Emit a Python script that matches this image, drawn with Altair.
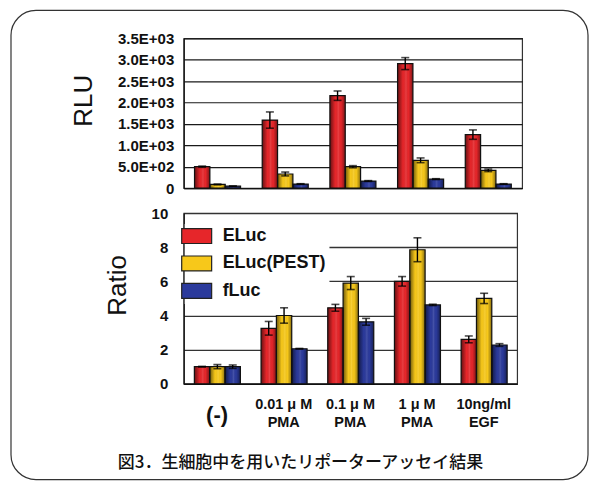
import altair as alt
import pandas as pd

categories = ["(-)", "0.01 μ M|PMA", "0.1 μ M|PMA", "1 μ M|PMA", "10ng/ml|EGF"]
series = ["ELuc", "ELuc(PEST)", "fLuc"]
colors = ["#e6262a", "#f7c81a", "#2b3a9c"]

rlu_eluc = [500, 1590, 2160, 2910, 1250]
rlu_eluc_err = [15, 190, 110, 140, 110]
rlu_pest = [85, 330, 500, 650, 415]
rlu_pest_err = [10, 45, 25, 55, 30]
rlu_fluc = [45, 95, 165, 210, 95]
rlu_fluc_err = [5, 8, 10, 10, 8]

ratio_eluc = [1.0, 3.25, 4.45, 6.0, 2.6]
ratio_eluc_err = [0.02, 0.4, 0.2, 0.28, 0.2]
ratio_pest = [1.0, 4.0, 5.9, 7.85, 5.0]
ratio_pest_err = [0.12, 0.45, 0.38, 0.7, 0.3]
ratio_fluc = [1.0, 2.05, 3.63, 4.62, 2.27]
ratio_fluc_err = [0.1, 0.02, 0.2, 0.04, 0.08]

rlu_ticks = [0, 500, 1000, 1500, 2000, 2500, 3000, 3500]
ratio_ticks = [0, 2, 4, 6, 8, 10]

caption = "図3．生細胞中を用いたリポーターアッセイ結果"


def make_df(vals, errs):
    rows = []
    for s, v, e in zip(series, vals, errs):
        for c, vv, ee in zip(categories, v, e):
            rows.append({"cat": c, "series": s, "value": vv, "err": ee,
                         "lo": vv - ee, "hi": vv + ee})
    return pd.DataFrame(rows)


df_rlu = make_df([rlu_eluc, rlu_pest, rlu_fluc],
                 [rlu_eluc_err, rlu_pest_err, rlu_fluc_err])
df_ratio = make_df([ratio_eluc, ratio_pest, ratio_fluc],
                   [ratio_eluc_err, ratio_pest_err, ratio_fluc_err])
one = pd.DataFrame({"a": [0]})

FONT = "Liberation Sans"

shade = alt.Gradient(
    gradient="linear",
    stops=[
        alt.GradientStop(color="rgba(0,0,0,0.55)", offset=0),
        alt.GradientStop(color="rgba(0,0,0,0)", offset=0.35),
        alt.GradientStop(color="rgba(255,255,255,0.12)", offset=0.55),
        alt.GradientStop(color="rgba(0,0,0,0)", offset=0.72),
        alt.GradientStop(color="rgba(0,0,0,0.45)", offset=1),
    ],
    x1=0, x2=1, y1=0, y2=0,
)

xscale = alt.Scale(domain=categories, paddingInner=0.32, paddingOuter=0.16)
xoff = alt.XOffset("series:N", sort=series,
                   scale=alt.Scale(domain=series, paddingInner=0, paddingOuter=0))
color_scale = alt.Scale(domain=series, range=colors)


def panel(df, yaxis, ydomain, xaxis, legend):
    x = alt.X("cat:N", sort=categories, scale=xscale, axis=xaxis, title=None)
    ys = alt.Scale(domain=ydomain, nice=False, zero=True)

    def Y(f):
        return alt.Y(f + ":Q", scale=ys, axis=yaxis)

    base = alt.Chart(df)
    bars = base.mark_bar().encode(
        x=x, xOffset=xoff, y=Y("value"),
        color=alt.Color("series:N", sort=series, scale=color_scale, legend=legend),
    )
    overlay = base.mark_bar(fill=shade, stroke="#111", strokeWidth=1.2).encode(
        x=x, xOffset=xoff, y=Y("value"))
    rules = base.mark_rule(color="#000", strokeWidth=1.4).encode(
        x=x, xOffset=xoff, y=Y("lo"), y2="hi:Q")
    cap_hi = base.mark_tick(color="#000", thickness=1.6, size=8).encode(
        x=x, xOffset=xoff, y=Y("hi"))
    cap_lo = base.mark_tick(color="#000", thickness=1.6, size=8).encode(
        x=x, xOffset=xoff, y=Y("lo"))
    return [bars, overlay, rules, cap_hi, cap_lo]


top_yaxis = alt.Axis(
    values=rlu_ticks, labelOverlap=False,
    labelExpr="datum.value == 0 ? '0' : (datum.value < 1000 ? format(datum.value/100, '.1f') + 'E+02' : format(datum.value/1000, '.1f') + 'E+03')",
    labelPadding=10, labelFontSize=15, ticks=False, grid=True, gridColor="#1a1a1a", gridWidth=1.2,
    title="RLU", titleFont=FONT, titleFontSize=26, titleFontWeight="normal",
    titleAngle=270, titleX=-100, titleY=62, titleAlign="center", titleBaseline="middle",
    titleColor="#111",
)
top_xaxis = alt.Axis(labels=False, ticks=False, domain=True)

bot_yaxis = alt.Axis(
    values=ratio_ticks, labelOverlap=False, labelPadding=16, labelFontSize=15,
    ticks=False, grid=True, gridColor="#333", gridWidth=1.3,
    title="Ratio", titleFont=FONT, titleFontSize=26, titleFontWeight="normal",
    titleAngle=270, titleX=-66, titleY=72, titleAlign="center", titleBaseline="middle",
    titleColor="#111",
)
bot_xaxis = alt.Axis(
    labelExpr="split(datum.label, '|')", labelAngle=0, ticks=False,
    labelOverlap=False, labelPadding=21, labelLineHeight=18,
    labelBaseline={"condition": {"test": "datum.value == '(-)'", "value": "top"}, "value": "middle"},
    labelFontSize={"condition": {"test": "datum.value == '(-)'", "value": 22}, "value": 14.5},
)

legend = alt.Legend(
    orient="none", legendX=1, legendY=11, title=None,
    symbolType="M-2,-1H2V1H-2Z", symbolSize=225, symbolStrokeColor="#222",
    symbolStrokeWidth=1.2, symbolOpacity=1,
    labelFont=FONT, labelFontSize=18, labelFontWeight="bold", labelColor="#111",
    fillColor="white", padding=3, rowPadding=7.5, labelOffset=17,
)

border = alt.Chart(one).mark_rect(
    fillOpacity=0, stroke="#333", strokeWidth=1.2, cornerRadius=25, clip=False
).encode(x=alt.value(-173), x2=alt.value(405), y=alt.value(-28), y2=alt.value(442))

cap_text = alt.Chart(one).mark_text(
    text=caption, font="Noto Sans CJK JP", fontSize=17, align="center",
    baseline="middle", color="#111", fontWeight=500
).encode(x=alt.value(117), y=alt.value(250))

top = alt.layer(
    *panel(df_rlu, top_yaxis, [0, 3500], top_xaxis, None),
    border,
).properties(width=339, height=150)

bottom = alt.layer(
    *panel(df_ratio, bot_yaxis, [0, 10], bot_xaxis, legend),
    cap_text,
).properties(width=334, height=171)

chart = alt.vconcat(top, bottom, spacing=25, bounds="flush").resolve_legend(
    color="independent"
).properties(
    padding={"left": 1, "top": 0, "right": 0, "bottom": 0},
    background="white",
).configure_axis(
    labelFont=FONT, labelFontWeight="bold", labelColor="#111",
    domainColor="#111", domainWidth=1.3,
).configure_view(stroke="#333", strokeWidth=1.2)

chart.save("out.html", embed_options={"renderer": "svg", "actions": False})
